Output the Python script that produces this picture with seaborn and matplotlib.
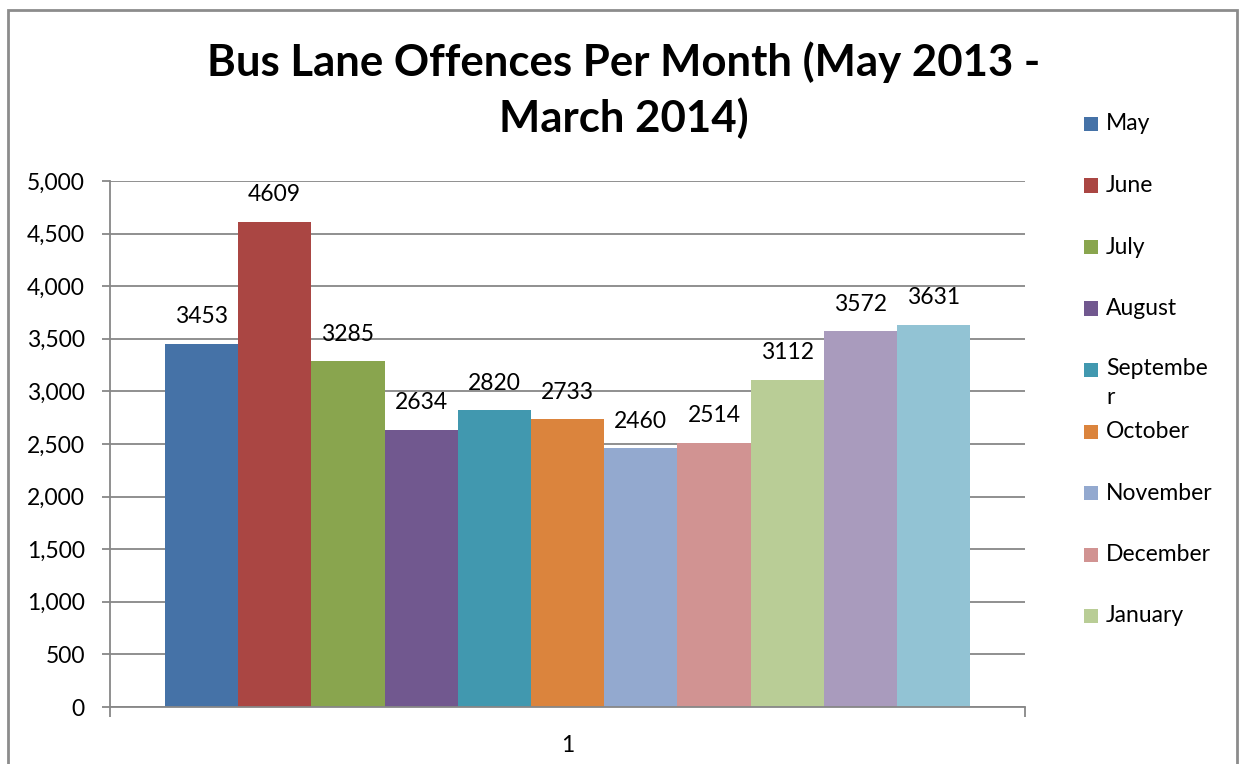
import matplotlib
matplotlib.use("Agg")
import matplotlib.pyplot as plt
import seaborn as sns
import pandas as pd
from matplotlib.patches import Rectangle
from matplotlib.ticker import FuncFormatter

months = ["May", "June", "July", "August", "September", "October",
          "November", "December", "January", "February", "March"]
offences = [3453, 4609, 3285, 2634, 2820, 2733, 2460, 2514, 3112, 3572, 3631]
colors = ["#4572A7", "#AA4643", "#89A54E", "#71588F", "#4198AF", "#DB843D",
          "#93A9CF", "#D19392", "#B9CD96", "#A99BBD", "#92C3D4"]
# Legend is clipped in the original, only the first nine entries show
legend_labels = ["May", "June", "July", "August", "Septembe\nr", "October",
                 "November", "December", "January"]

df = pd.DataFrame({"group": ["1"] * len(months), "month": months, "offences": offences})

sns.set_theme(style="white")
plt.rcParams["font.family"] = ["Lato", "DejaVu Sans"]
plt.rcParams["text.color"] = "black"

W, H = 1243, 764
fig = plt.figure(figsize=(W / 100, H / 100), dpi=100)
ax = fig.add_axes([110 / W, 57 / H, 915 / W, 526 / H])

sns.barplot(data=df, x="group", y="offences", hue="month", hue_order=months,
            palette=colors, width=0.88, dodge=True, saturation=1, gap=0,
            legend=False, ax=ax, linewidth=0)

for cont in ax.containers:
    ax.bar_label(cont, fmt="%d", padding=12, fontsize=16.5, color="black")

ax.set_xlim(-0.5, 0.5)
ax.set_ylim(0, 5000)
ax.set_yticks(range(0, 5001, 500))
ax.yaxis.set_major_formatter(FuncFormatter(lambda v, p: f"{int(v):,}"))
ax.yaxis.grid(True, color="#878787", linewidth=1.3)
ax.set_axisbelow(True)
ax.set_xlabel("")
ax.set_ylabel("")

for s in ["top", "right"]:
    ax.spines[s].set_visible(False)
for s in ["left", "bottom"]:
    ax.spines[s].set_color("#878787")
    ax.spines[s].set_linewidth(1.3)

ax.tick_params(axis="y", which="major", left=True, length=6, width=1.3,
               color="#878787", labelsize=16.5, labelcolor="black", pad=12)
ax.tick_params(axis="x", which="major", length=0, labelsize=16.5,
               labelcolor="black", pad=20)
ax.set_xticks([-0.5, 0.5], minor=True)
ax.tick_params(axis="x", which="minor", bottom=True, length=7, width=1.3,
               color="#878787")

fig.text(0.5015, 1 - 62 / H, "Bus Lane Offences Per Month (May 2013 -",
         ha="center", va="center", fontsize=31.5, fontweight="bold", color="black")
fig.text(0.5015, 1 - 118 / H, "March 2014)",
         ha="center", va="center", fontsize=31.5, fontweight="bold", color="black")

# legend, Excel style fixed row spacing
for i, lab in enumerate(legend_labels):
    yc = 124 + i * 61.5
    fig.patches.append(Rectangle((1084 / W, 1 - (yc + 7) / H), 14 / W, 14 / H,
                                 transform=fig.transFigure, color=colors[i],
                                 linewidth=0))
    if "\n" in lab:
        fig.text(1106 / W, 1 - (yc - 12) / H, lab, ha="left", va="top",
                 fontsize=16.5, linespacing=1.45, transform=fig.transFigure)
    else:
        fig.text(1106 / W, 1 - yc / H, lab, ha="left", va="center",
                 fontsize=16.5, transform=fig.transFigure)

# chart area border (bottom edge is cut off in the source)
fig.patches.append(Rectangle((8 / W, -0.05), 1229 / W, 1.05 - 10 / H,
                             transform=fig.transFigure, fill=False,
                             edgecolor="#8c8c8c", linewidth=2))

fig.savefig("out.png", dpi=100)
